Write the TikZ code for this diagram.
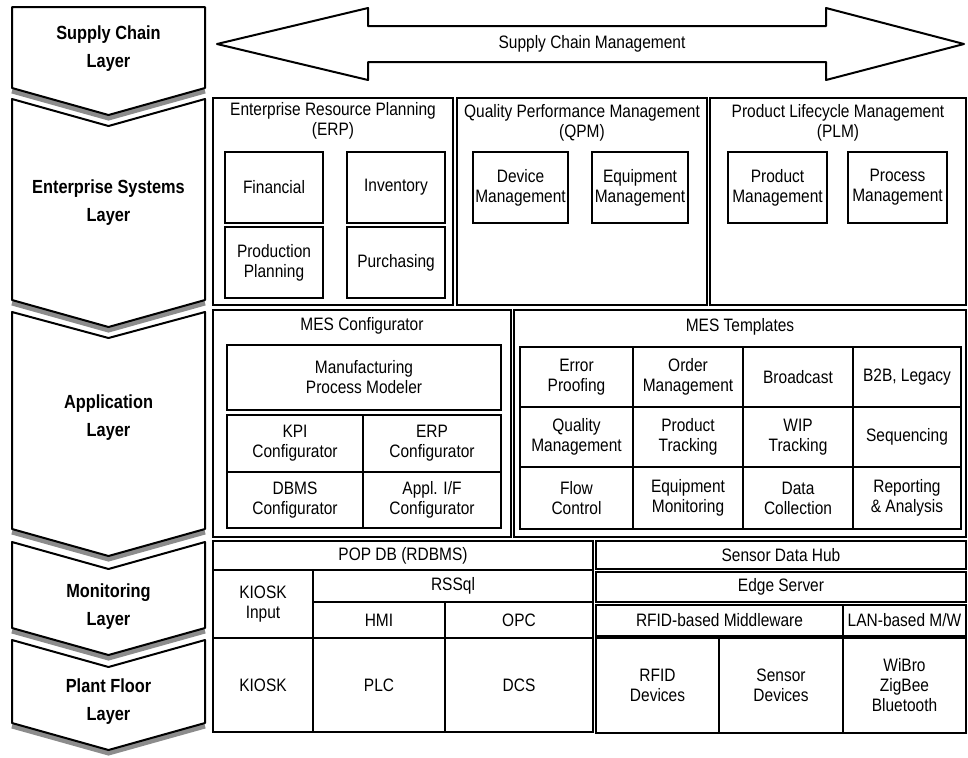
\documentclass[tikz,border=0pt]{standalone}
\usepackage{fontspec}
\setmainfont{Liberation Sans}[FakeStretch=0.86]
\usepackage{tikz}

\tikzset{
  cell/.style={rectangle, draw, line width=0.8pt, align=center, inner sep=1pt},
  wh/.style 2 args={minimum width=#1*0.5pt, minimum height=#2*0.5pt},
  title/.style={align=center, inner sep=0pt},
  layerbox/.style={draw, line width=1pt, fill=white, line join=round},
  layershade/.style={draw=black!45, line width=2.5pt},
  layertext/.style={align=center, font=\bfseries\fontsize{9.5}{14}\selectfont},
}

\begin{document}
\begin{tikzpicture}[x=0.5pt, y=-0.5pt, font=\fontsize{9}{10}\selectfont]
\useasboundingbox (0,0) rectangle (968,757);

% layers on the left
\draw[layershade] (12,91) -- (108.5,118) -- (205,91);
\draw[layerbox] (12,7) -- (205,7) -- (205,88) -- (108.5,115) -- (12,88) -- cycle;
\node[layertext] (sclayer) at (108.5,49) {Supply Chain\\Layer};

\draw[layershade] (12,303) -- (108.5,330) -- (205,303);
\draw[layerbox] (12,99) -- (108.5,126) -- (205,99) -- (205,300) -- (108.5,327) -- (12,300) -- cycle;
\node[layertext] (eslayer) at (108.5,203) {Enterprise Systems\\Layer};

\draw[layershade] (12,532) -- (108.5,559) -- (205,532);
\draw[layerbox] (12,312) -- (108.5,338) -- (205,312) -- (205,529) -- (108.5,556) -- (12,529) -- cycle;
\node[layertext] (applayer) at (108.5,418) {Application\\Layer};

\draw[layershade] (12,631) -- (108.5,658) -- (205,631);
\draw[layerbox] (12,542) -- (108.5,569) -- (205,542) -- (205,628) -- (108.5,655) -- (12,628) -- cycle;
\node[layertext] (monlayer) at (108.5,607) {Monitoring\\Layer};

\draw[layershade] (12,726) -- (108.5,753) -- (205,726);
\draw[layerbox] (12,640) -- (108.5,667) -- (205,640) -- (205,723) -- (108.5,750) -- (12,723) -- cycle;
\node[layertext] (pflayer) at (108.5,702) {Plant Floor\\Layer};

% supply chain
\draw[line width=1pt, line join=round] (217,44) -- (368,8) -- (368,26) -- (826,26) -- (826,8) -- (964,44) -- (826,80) -- (826,62) -- (368,62) -- (368,80) -- cycle;
\node (scm) at (592,44) {Supply Chain Management};

% enterprise systems
\node[cell, wh={240}{207}] (erp) at (333,201.5) {};
\node[title] (erptitle) at (333,121) {Enterprise Resource Planning\\(ERP)};
\node[cell, wh={98}{71}] (fin) at (274,187.5) {Financial};
\node[cell, wh={98}{71}] (inv) at (396,187.5) {Inventory};
\node[cell, wh={98}{71}] (prodplan) at (274,262.5) {Production\\Planning};
\node[cell, wh={98}{71}] (purch) at (396,262.5) {Purchasing};

\node[cell, wh={250}{207}] (qpm) at (582,201.5) {};
\node[title] (qpmtitle) at (582,123) {Quality Performance Management\\(QPM)};
\node[cell, wh={95}{71}] (devmgmt) at (520.5,187.5) {Device\\Management};
\node[cell, wh={96}{71}] (eqmgmt) at (640,187.5) {Equipment\\Management};

\node[cell, wh={256}{207}] (plm) at (838,201.5) {};
\node[title] (plmtitle) at (838,123) {Product Lifecycle Management\\(PLM)};
\node[cell, wh={99}{71}] (prodmgmt) at (777.5,187.5) {Product\\Management};
\node[cell, wh={99}{71}] (procmgmt) at (897.5,187.5) {Process\\Management};

% application
\node[cell, wh={298}{227}] (mescfg) at (362,423.5) {};
\node[title] (mescfgtitle) at (362,326) {MES Configurator};
\node[cell, wh={274}{65}] (mpm) at (364,377.5) {Manufacturing\\Process Modeler};
\node[cell, wh={136}{57}] (kpicfg) at (295,443.5) {KPI\\Configurator};
\node[cell, wh={138}{57}] (erpcfg) at (432,443.5) {ERP\\Configurator};
\node[cell, wh={136}{56}] (dbmscfg) at (295,500) {DBMS\\Configurator};
\node[cell, wh={138}{56}] (appcfg) at (432,500) {Appl. I/F\\Configurator};

\node[cell, wh={452}{227}] (mestpl) at (740,423.5) {};
\node[title] (mestpltitle) at (740,327) {MES Templates};
\node[cell, wh={113}{60}] (errproof) at (576.5,377) {Error\\Proofing};
\node[cell, wh={110}{60}] (ordmgmt) at (688,377) {Order\\Management};
\node[cell, wh={110}{60}] (broadcast) at (798,377) {Broadcast};
\node[cell, wh={108}{60}] (btob) at (907,377) {B2B, Legacy};
\node[cell, wh={113}{60}] (qualmgmt) at (576.5,437) {Quality\\Management};
\node[cell, wh={110}{60}] (prodtrack) at (688,437) {Product\\Tracking};
\node[cell, wh={110}{60}] (wiptrack) at (798,437) {WIP\\Tracking};
\node[cell, wh={108}{60}] (sequencing) at (907,437) {Sequencing};
\node[cell, wh={113}{62}] (flowctrl) at (576.5,498) {Flow\\Control};
\node[cell, wh={110}{62}] (eqmon) at (688,498) {Equipment\\Monitoring};
\node[cell, wh={110}{62}] (datacoll) at (798,498) {Data\\Collection};
\node[cell, wh={108}{62}] (reporting) at (907,498) {Reporting\\\& Analysis};

% monitoring and plant floor
\node[cell, wh={380}{29}] (popdb) at (403,555.5) {POP DB (RDBMS)};
\node[cell, wh={100}{68}] (kioskin) at (263,604) {KIOSK\\Input};
\node[cell, wh={280}{32}] (rssql) at (453,586) {RSSql};
\node[cell, wh={132}{36}] (hmi) at (379,620) {HMI};
\node[cell, wh={148}{36}] (opc) at (519,620) {OPC};
\node[cell, wh={100}{94}] (kiosk) at (263,685) {KIOSK};
\node[cell, wh={132}{94}] (plc) at (379,685) {PLC};
\node[cell, wh={148}{94}] (dcs) at (519,685) {DCS};

\node[cell, wh={370}{28}] (sdh) at (781,555) {Sensor Data Hub};
\node[cell, wh={370}{30}] (edgesrv) at (781,587) {Edge Server};
\node[cell, wh={247}{31}] (rfidmw) at (719.5,620.5) {RFID-based Middleware};
\node[cell, wh={123}{31}] (lanmw) at (904.5,620.5) {LAN-based M/W};
\node[cell, wh={123}{95}] (rfiddev) at (657.5,685.5) {RFID\\Devices};
\node[cell, wh={124}{95}] (sensdev) at (781,685.5) {Sensor\\Devices};
\node[cell, wh={123}{95}] (wireless) at (904.5,685.5) {WiBro\\ZigBee\\Bluetooth};

\end{tikzpicture}
\end{document}
